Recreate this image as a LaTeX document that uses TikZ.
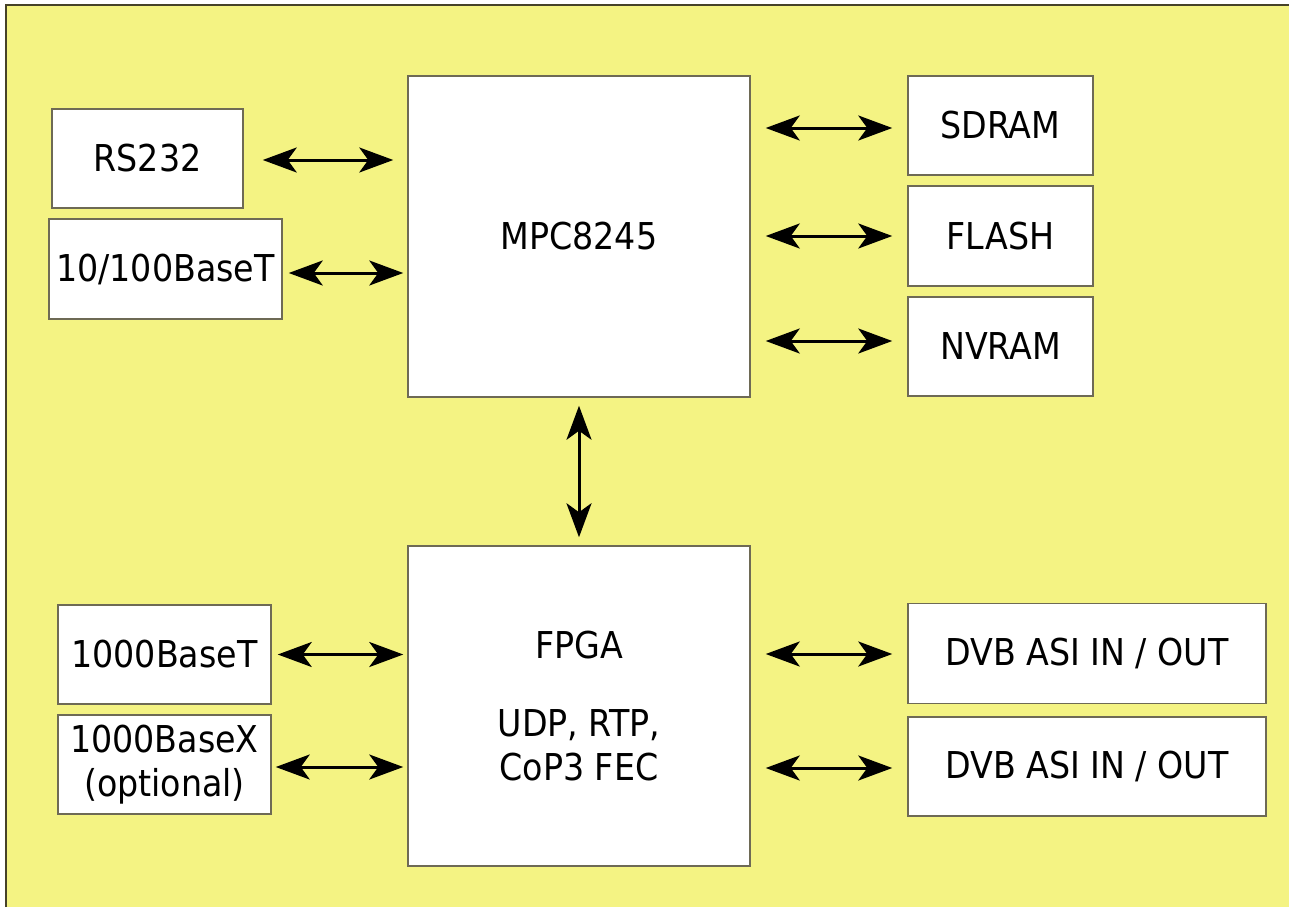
\documentclass[tikz,border=0pt]{standalone}
\usepackage{fontspec}
\setmainfont{DejaVu Sans Condensed}
\usetikzlibrary{arrows.meta}
\definecolor{bgyellow}{RGB}{244,243,131}
\definecolor{boxedge}{RGB}{110,106,85}
\definecolor{frameedge}{RGB}{70,66,40}
\tikzset{
  blk/.style={draw=boxedge, line width=1.5pt, fill=white, inner sep=0pt,
    align=center, font=\fontsize{37}{44}\selectfont},
  arr/.style={line width=3pt, {Stealth[length=34pt,width=25pt,inset=9pt]}-{Stealth[length=34pt,width=25pt,inset=9pt]}}
}
\begin{document}
\begin{tikzpicture}[x=1pt,y=-1pt]
\useasboundingbox (0,0) rectangle (1289,907);
\fill[white] (0,0) rectangle (1289,907);
\fill[bgyellow] (6,5) rectangle (1289,907);
\draw[frameedge, line width=1.5pt] (6,907) -- (6,5) -- (1289,5);

\node[blk, minimum width=191pt, minimum height=99pt] (rs) at (147.5,158.5) {RS232};
\node[blk, minimum width=233pt, minimum height=100pt] (eth) at (165.5,269) {10/100BaseT};
\node[blk, minimum width=342pt, minimum height=321pt] (mpc) at (579,236.5) {MPC8245};
\node[blk, minimum width=185pt, minimum height=99pt] (sdram) at (1000.5,125.5) {SDRAM};
\node[blk, minimum width=185pt, minimum height=100pt] (flash) at (1000.5,236) {FLASH};
\node[blk, minimum width=185pt, minimum height=99pt] (nvram) at (1000.5,346.5) {NVRAM};
\node[blk, minimum width=342pt, minimum height=320pt] (fpga) at (579,706) {FPGA\\[34pt]UDP, RTP,\\CoP3 FEC};
\node[blk, minimum width=213pt, minimum height=99pt] (gt) at (164.5,654.5) {1000BaseT};
\node[blk, minimum width=213pt, minimum height=99pt] (gx) at (164.5,764.5) {1000BaseX\\(optional)};
\node[blk, minimum width=358pt, minimum height=100pt] (dvba) at (1087,653.5) {DVB ASI IN / OUT};
\node[blk, minimum width=358pt, minimum height=99pt] (dvbb) at (1087,766.5) {DVB ASI IN / OUT};

\draw[arr, shorten <=19pt, shorten >=14pt] ([yshift=-1.5pt]rs.east) -- ([yshift=-1.5pt]rs.east -| mpc.west);
\draw[arr, shorten <=6pt, shorten >=4pt] ([yshift=-4pt]eth.east) -- ([yshift=-4pt]eth.east -| mpc.west);
\draw[arr, shorten <=15pt, shorten >=15pt] ([yshift=-2.5pt]sdram.west -| mpc.east) -- ([yshift=-2.5pt]sdram.west);
\draw[arr, shorten <=15pt, shorten >=15pt] (flash.west -| mpc.east) -- (flash.west);
\draw[arr, shorten <=15pt, shorten >=15pt] ([yshift=5.5pt]nvram.west -| mpc.east) -- ([yshift=5.5pt]nvram.west);
\draw[arr, shorten <=8pt, shorten >=8pt] (mpc.south) -- (fpga.north);
\draw[arr, shorten <=6pt, shorten >=4pt] (gt.east) -- (gt.east -| fpga.west);
\draw[arr, shorten <=4pt, shorten >=4pt] ([yshift=-2.5pt]gx.east) -- ([yshift=-2.5pt]gx.east -| fpga.west);
\draw[arr, shorten <=15pt, shorten >=15pt] ([yshift=-0.5pt]dvba.west -| fpga.east) -- ([yshift=-0.5pt]dvba.west);
\draw[arr, shorten <=15pt, shorten >=15pt] ([yshift=-1.5pt]dvbb.west -| fpga.east) -- ([yshift=-1.5pt]dvbb.west);
\end{tikzpicture}
\end{document}
